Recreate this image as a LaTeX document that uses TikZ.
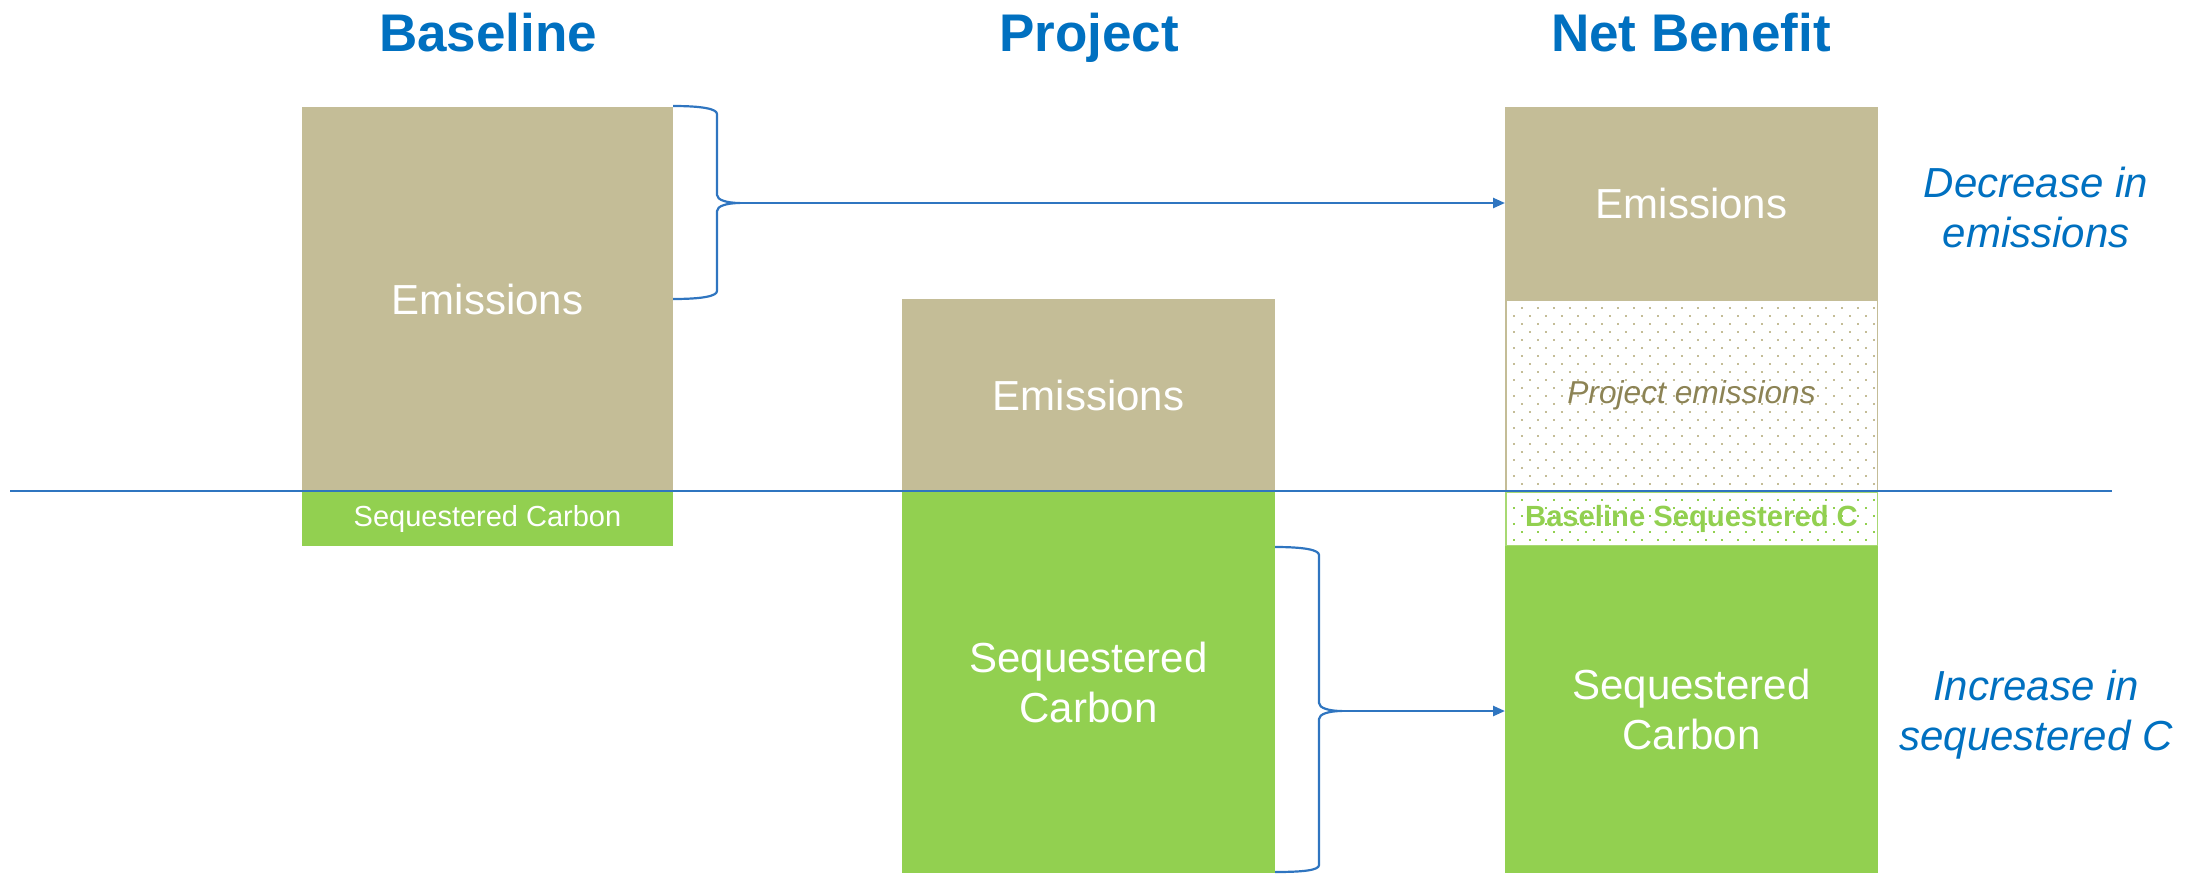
\documentclass[tikz,border=0pt]{standalone}
\usepackage{fontspec}
\setmainfont{Liberation Sans}
\usetikzlibrary{arrows.meta}
\definecolor{tanc}{HTML}{C4BD97}
\definecolor{greenc}{HTML}{92D050}
\definecolor{titleblue}{HTML}{0070C0}
\definecolor{lineblue}{HTML}{2F75C0}
\definecolor{tantext}{HTML}{8C8355}
\tikzset{
  box/.style={rectangle, inner sep=0pt, outer sep=0pt, align=center, text=white,
    font=\fontsize{42}{50}\selectfont},
  title/.style={anchor=base, text=titleblue, font=\bfseries\fontsize{53}{60}\selectfont},
  sidelabel/.style={align=center, text=titleblue, font=\itshape\fontsize{42}{50}\selectfont},
  conn/.style={draw=lineblue, line width=2.5pt},
  arr/.style={conn, -{Triangle[length=12pt,width=10pt]}},
}
\begin{document}
\begin{tikzpicture}[x=1pt,y=-1pt]
\useasboundingbox (0,0) rectangle (2200,873);
% titles
\node[title] (t1) at (488,51) {Baseline};
\node[title] (t2) at (1089,51) {Project};
\node[title] (t3) at (1691,51) {Net Benefit};
% baseline column
\node[box, fill=tanc, minimum width=371pt, minimum height=384pt] (be) at (487.5,299) {Emissions};
\node[box, fill=greenc, minimum width=371pt, minimum height=55pt, font=\fontsize{29}{34}\selectfont] (bs) at (487.5,518.5) {Sequestered Carbon};
% project column
\node[box, fill=tanc, minimum width=373pt, minimum height=192pt] (pe) at (1088.5,395) {Emissions};
\node[box, fill=greenc, minimum width=373pt, minimum height=382pt] (ps) at (1088.5,682) {Sequestered\\Carbon};
% net benefit column
\node[box, fill=tanc, minimum width=373pt, minimum height=192pt] (ne) at (1691.5,203) {Emissions};
% dotted regions
\begin{scope}
  \clip (1505,299) rectangle (1878,546);
  \foreach \r in {0,...,31} {
    \pgfmathsetmacro{\yy}{298.7+8*\r}
    \pgfmathsetmacro{\off}{8*mod(\r+1,2)}
    \ifdim \yy pt<491pt \def\dc{tanc}\else\def\dc{greenc}\fi
    \foreach \c in {0,...,23} {
      \fill[\dc] (1505+\off+16*\c,\yy) rectangle ++(1.8,1.8);
    }
  }
\end{scope}
\node[box, draw=tanc, line width=1.5pt, minimum width=371.5pt, minimum height=190.5pt, text=tantext, font=\itshape\fontsize{31.7}{36}\selectfont] (npe) at (1691.5,395) {Project emissions};
\node[box, draw=greenc!80!white, line width=1.5pt, minimum width=371.5pt, minimum height=53.5pt, text=greenc, font=\bfseries\fontsize{29.2}{34}\selectfont] (nbs) at (1691.5,518.5) {Baseline Sequestered C};
\node[box, fill=greenc, minimum width=373pt, minimum height=327pt] (ns) at (1691.5,709.5) {Sequestered\\Carbon};
% side labels
\node[sidelabel] (l1) at (2036,207) {Decrease in\\emissions};
\node[sidelabel] (l2) at (2036,715) {Increase in\\sequestered C};
% zero line
\coordinate (z1) at (10,491);
\coordinate (z2) at (2112,491);
\draw[conn, line width=2pt] (z1) -- (z2);
% brace 1
\coordinate (b1tip) at (740,203);
\draw[conn, line width=2.2pt] (673,106) .. controls (703,106) and (717,109) .. (717,114) -- (717,195)
  .. controls (717,200) and (727,203) .. (b1tip)
  .. controls (727,203) and (717,206) .. (717,211) -- (717,291)
  .. controls (717,296) and (703,299) .. (673,299);
\draw[arr] (b1tip) -- (ne.west);
% brace 2
\coordinate (b2tip) at (1342,711);
\draw[conn, line width=2.2pt] (1275,547) .. controls (1305,547) and (1319,550) .. (1319,555) -- (1319,703)
  .. controls (1319,708) and (1329,711) .. (b2tip)
  .. controls (1329,711) and (1319,714) .. (1319,719) -- (1319,865)
  .. controls (1319,870) and (1305,872) .. (1275,872);
\draw[arr] (b2tip) -- (ns.west |- b2tip);
\end{tikzpicture}
\end{document}
